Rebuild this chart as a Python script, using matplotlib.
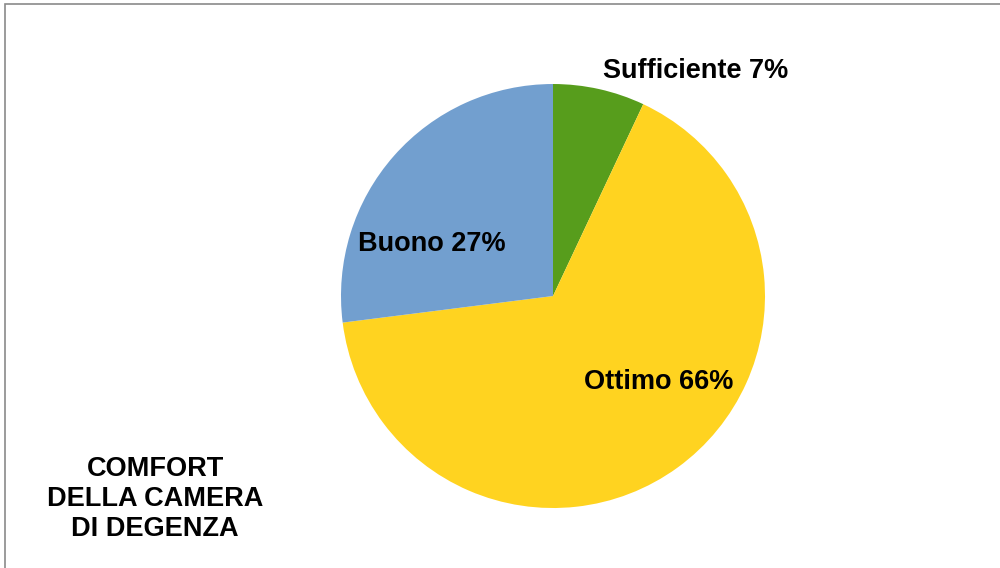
import matplotlib
matplotlib.use("Agg")
import matplotlib.pyplot as plt
from matplotlib.patches import Rectangle

plt.rcParams['font.family'] = ['Liberation Sans', 'DejaVu Sans']

# data
labels = ['Sufficiente', 'Ottimo', 'Buono']
values = [7, 66, 27]
colors = ['#579D1C', '#FFD320', '#729FCF']
title = 'COMFORT\nDELLA CAMERA\nDI DEGENZA'

# label anchor positions (data units of the pie axes) and alignment
label_pos = [(0.236, 1.061), (0.50, -0.406), (-0.571, 0.245)]
label_ha = ['left', 'center', 'center']

fig = plt.figure(figsize=(10, 5.68), dpi=100)
fig.patch.set_facecolor('white')

# outer frame (right and bottom edges fall outside the image)
fig.add_artist(Rectangle((0.005, -0.1), 1.2, 1.1 - 3.5 / 568,
                         transform=fig.transFigure, fill=False,
                         edgecolor='#8a8a8a', linewidth=1.2))

ax = fig.add_axes([0.341, 0.1056, 0.424, 0.7465])
ax.pie(values, colors=colors, startangle=90, counterclock=False,
       radius=1, wedgeprops=dict(linewidth=0))
ax.set_xlim(-1, 1)
ax.set_ylim(-1, 1)
ax.set_aspect('equal')
ax.axis('off')

for lab, v, (x, y), ha in zip(labels, values, label_pos, label_ha):
    ax.text(x, y, f'{lab} {v}%', ha=ha, va='center', fontsize=19.5,
            fontweight='bold', color='black', clip_on=False)

fig.text(0.155, 1 - 499 / 568, title, ha='center', va='center',
         fontsize=19.5, fontweight='bold', linespacing=1.21)

fig.savefig('out.png', dpi=100)
